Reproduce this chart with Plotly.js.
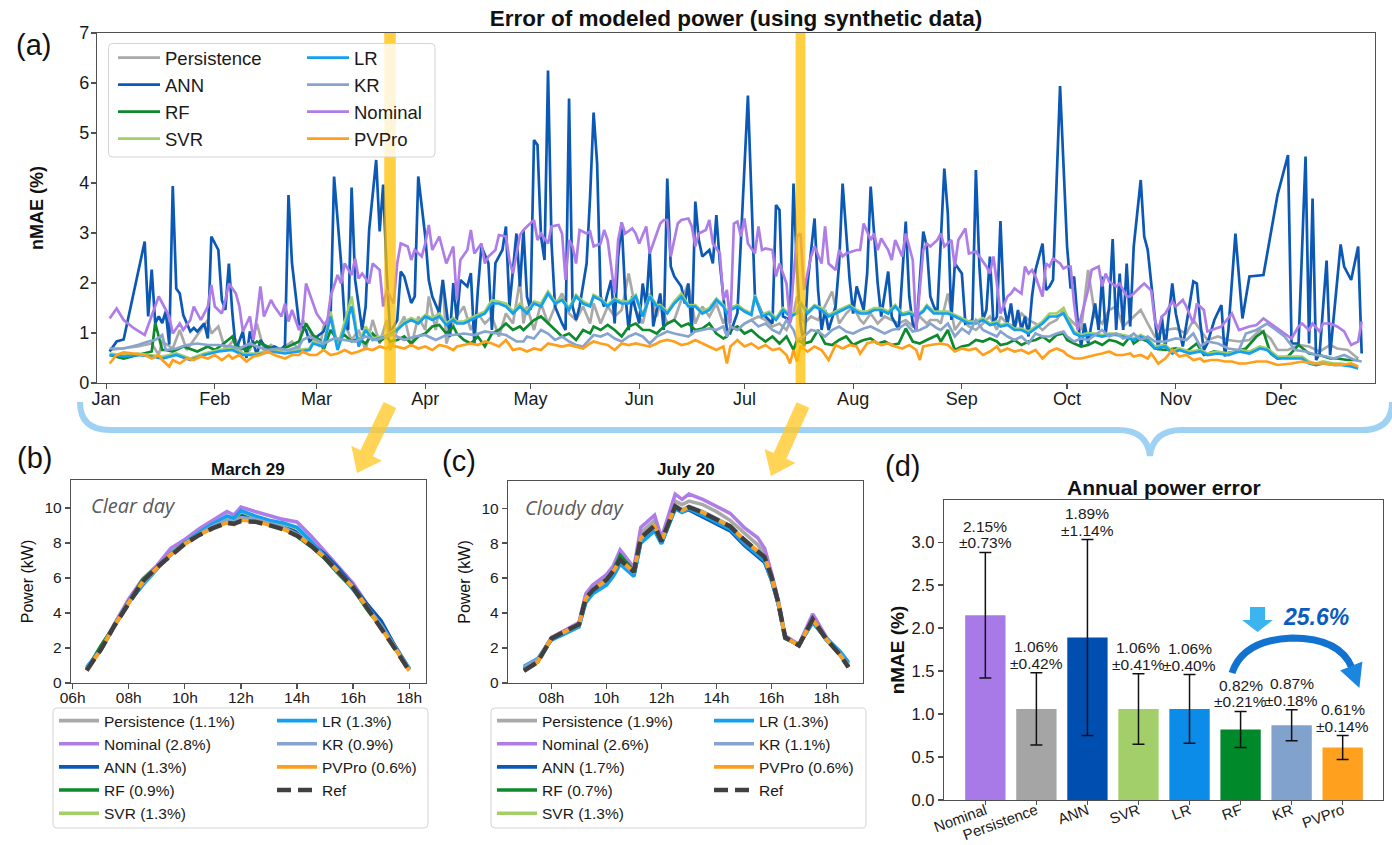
<!DOCTYPE html>
<html><head><meta charset="utf-8">
<script src="https://cdn.plot.ly/plotly-3.0.1.min.js"></script>
<style>html,body{margin:0;padding:0;background:#fff}#chart{width:1392px;height:845px}</style>
</head><body><div id="chart"></div>
<script>
// ---------------- Panel (a): daily nMAE (%), [day of year (0 = Jan 1), value] ----------------
const persistence = [[1,0.66],[5,0.69],[9,0.73],[13,0.79],[15,0.56],[16,0.83],[19,0.69],[21,1.06],[23,0.66],[25,0.86],[27,1.06],[29,1.26],[30,0.99],[32,1.13],[34,0.66],[36,0.83],[37,0.86],[39,0.56],[41,0.66],[43,1.19],[45,0.66],[47,0.76],[49,0.66],[51,0.73],[53,0.83],[55,0.66],[56,1.26],[58,1.06],
[59,0.86],[61,0.73],[62,1.13],[64,1.39],[66,0.73],[68,1.19],[70,0.86],[72,1.06],[74,0.66],[76,1.26],[78,0.79],[80,1.26],[81,0.66],[83,1.06],[85,1.33],[87,0.73],[89,1.33],[91,1.06],[92,1.73],[94,1.06],[96,2.06],[97,0.79],[99,1.19],[100,1.33],[102,1.53],[104,1.06],[106,1.39],[108,1.19],[110,1.33],[112,0.93],[114,1.39],[116,1.19],[118,2.06],
[119,1.19],[120,1.53],[122,1.06],[124,1.59],[126,1.19],[128,1.53],[130,1.79],[132,1.39],[134,1.26],[136,1.53],[138,1.19],[139,1.59],[141,1.19],[143,1.53],[145,1.33],[147,1.46],[149,2.19],[151,1.46],[153,1.19],[155,1.79],[157,1.33],[158,1.59],[160,1.19],[162,1.26],[164,1.66],[166,1.99],[168,1.19],[170,1.53],[172,1.33],[174,1.59],[176,1.19],[177,1.39],
[178,1.13],[180,1.06],[182,1.19],[184,1.26],[186,1.33],[188,1.26],[190,1.13],[192,1.19],[194,1.06],[196,1.39],[197,1.73],[199,1.19],[201,1.33],[203,1.26],[205,1.53],[207,1.83],[209,1.19],[211,1.39],[213,1.53],[215,1.26],[216,1.19],[218,1.39],[220,1.19],[222,1.33],[224,1.26],[226,1.19],[228,1.26],[230,1.13],[232,1.33],[234,1.19],[235,1.26],[237,1.26],
[238,1.19],[240,1.79],[242,1.06],[244,1.26],[246,1.13],[248,1.06],[250,1.19],[252,1.33],[254,1.06],[255,1.33],[257,1.19],[259,1.13],[261,1.39],[263,1.26],[265,1.19],[267,1.06],[269,1.19],[271,1.26],[273,1.46],[274,1.33],[276,1.19],[278,1.06],[280,2.26],[282,1.33],[284,1.19],[286,1.46],[288,1.53],[290,1.13],[292,1.26],[293,1.33],[295,1.46],[297,1.19],
[299,0.93],[302,1.06],[305,1.09],[308,0.99],[310,1.26],[312,1.06],[314,0.86],[317,0.93],[320,0.86],[323,0.83],[326,0.86],[329,1.06],[332,0.89],[334,0.66],[337,0.66],[340,0.76],[343,0.73],[346,0.63],[349,0.76],[351,0.69],[354,0.66],[357,0.49]];

const ann = [[1,0.63],[3,0.83],[5,0.87],[11,2.83],[12,1.33],[13,2.27],[14,1.2],[15,1.33],[16,1.2],[17,1.43],[18,0.77],[19,3.94],[20,1.89],[21,1.79],[22,1.36],[24,1.03],[25,1.1],[26,1.03],[28,1.19],[29,0.89],[30,2.93],[32,2.66],[33,1.66],[34,1.46],[35,2.39],[36,1.39],[37,0.66],[39,1.03],[40,0.5],[41,1.03],[43,0.56],[44,0.86],[46,0.66],[48,0.73],[50,0.66],[51,0.76],[52,3.76],[53,2.39],[55,1.19],[57,1.06],[58,0.83],[60,0.92],[62,1.03],[64,1.33],[65,4.13],[67,2.4],[68,1.26],[69,1.06],[70,3.91],[71,2.06],[73,1.06],[74,1.53],[75,3.06],[77,4.46],[78,3.03],[79,3.97],[80,2.2],[81,1.0],[83,1.26],[84,2.23],[85,2.13],[87,1.6],[88,1.73],[89,4.13],[91,2.93],[92,2.06],[93,1.73],[95,1.4],[96,2.06],[97,1.53],[98,0.92],[99,2.0],[100,1.26],[101,2.06],[103,1.93],[104,2.2],[105,0.79],[106,1.86],[107,2.73],[109,2.4],[110,1.06],[111,2.4],[113,2.66],[114,3.13],[115,1.53],[117,2.99],[118,1.93],[119,3.06],[120,1.73],[121,1.46],[122,4.86],[123,4.76],[124,2.93],[125,2.46],[126,6.25],[127,2.8],[128,1.53],[130,1.19],[131,1.06],[132,5.69],[133,1.53],[134,1.26],[135,1.53],[137,2.39],[138,3.73],[139,5.41],[140,4.39],[141,1.73],[142,1.53],[144,2.06],[145,1.19],[146,2.53],[147,3.21],[148,1.79],[149,1.06],[150,1.73],[152,1.19],[153,1.99],[154,1.53],[155,2.63],[156,1.13],[158,1.79],[159,1.06],[160,4.09],[161,2.33],[162,2.13],[164,1.93],[165,1.59],[166,1.99],[167,0.99],[168,3.63],[169,2.86],[170,2.53],[172,2.66],[173,2.39],[174,3.36],[175,2.39],[177,1.06],[178,1.0],[180,1.4],[183,5.75],[185,1.73],[187,1.4],[188,1.33],[190,1.19],[191,3.56],[192,3.46],[193,1.33],[195,1.26],[196,3.99],[197,2.26],[198,1.19],[199,0.73],[200,1.99],[202,3.29],[203,1.86],[204,1.06],[205,1.46],[206,1.06],[208,1.53],[209,2.39],[210,3.99],[212,2.06],[213,1.39],[214,1.93],[216,1.46],[217,2.19],[218,3.93],[220,1.99],[221,1.33],[223,2.23],[224,1.33],[225,1.19],[226,1.06],[228,3.23],[229,1.73],[230,1.19],[231,1.06],[233,3.03],[234,2.73],[235,1.73],[236,1.53],[237,1.4],[239,4.29],[240,3.39],[241,1.26],[242,2.39],[244,2.19],[245,1.19],[247,1.26],[248,4.26],[249,2.33],[250,1.26],[251,1.46],[252,2.53],[253,1.19],[254,1.33],[255,3.24],[256,1.53],[257,1.19],[258,1.59],[259,1.06],[260,1.46],[261,1.06],[262,1.33],[263,0.93],[264,1.73],[265,2.26],[267,2.79],[268,1.86],[269,1.93],[270,2.06],[272,5.94],[273,4.39],[274,2.73],[275,1.89],[276,2.13],[277,1.26],[278,0.73],[279,1.19],[280,0.79],[282,1.59],[283,1.06],[284,2.13],[285,0.99],[286,1.53],[287,2.88],[288,1.06],[289,2.19],[290,1.06],[291,2.39],[292,1.13],[293,2.73],[295,4.06],[296,2.93],[297,2.66],[299,1.26],[300,0.66],[301,1.33],[302,0.7],[304,1.99],[305,1.39],[307,0.73],[310,2.03],[311,1.99],[312,1.19],[313,0.66],[314,0.79],[316,1.26],[318,1.56],[319,0.53],[320,1.06],[322,2.99],[324,1.29],[326,2.13],[330,2.16],[334,3.76],[337,4.56],[338,0.79],[340,0.79],[342,4.53],[343,0.79],[344,3.69],[345,0.46],[346,0.59],[348,2.45],[349,0.56],[352,2.77],[353,2.33],[355,2.06],[357,2.73],[358,0.59]];

const rf = [[1,0.56],[5,0.49],[9,0.56],[13,0.63],[14,1.2],[16,0.66],[17,0.66],[19,0.63],[22,0.73],[26,0.63],[29,0.73],[31,0.66],[33,0.76],[36,0.93],[37,0.73],[40,0.66],[43,0.83],[46,0.73],[49,0.66],[52,0.73],[55,0.83],[57,1.19],
[59,0.96],[61,0.86],[62,0.66],[64,1.06],[66,0.86],[68,0.96],[70,0.83],[72,0.89],[74,0.79],[76,0.99],[78,0.83],[80,0.93],[81,0.83],[83,0.86],[85,0.93],[87,0.79],[89,0.93],[91,0.99],[93,1.13],[95,1.16],[97,0.99],[99,1.13],[100,0.99],[102,0.86],[104,0.79],[106,0.93],[108,0.73],[110,0.99],[112,1.06],[114,1.19],[116,1.06],[118,1.13],
[119,1.06],[120,1.13],[122,1.26],[124,1.33],[126,1.19],[128,1.06],[130,0.93],[132,0.99],[134,0.86],[136,1.06],[138,0.99],[139,1.13],[141,1.06],[143,1.16],[145,1.06],[147,0.93],[149,1.13],[151,1.19],[153,1.06],[155,1.06],[157,0.99],[158,1.06],[160,1.19],[162,1.26],[164,1.13],[166,1.19],[168,1.06],[170,1.09],[172,1.19],[174,0.99],[176,0.89],[177,0.93],
[178,1.06],[180,1.13],[182,0.99],[184,1.06],[186,0.93],[188,0.83],[190,0.93],[192,0.79],[194,0.93],[196,0.66],[197,0.86],[199,0.79],[201,0.83],[203,1.06],[205,0.79],[207,0.76],[209,0.86],[211,0.93],[213,0.76],[215,0.83],[216,0.86],[218,0.89],[220,0.79],[222,0.83],[224,0.76],[226,0.79],[228,1.09],[230,0.83],[232,0.79],[234,0.86],[235,0.89],[237,0.96],
[238,0.83],[240,1.06],[242,0.66],[244,0.73],[246,0.76],[248,0.86],[250,0.83],[252,0.89],[254,0.83],[255,0.76],[257,0.79],[259,0.86],[261,0.76],[263,0.83],[265,0.86],[267,0.93],[269,0.83],[271,0.96],[273,0.99],[274,0.86],[276,0.79],[278,0.73],[280,0.76],[282,0.83],[284,0.76],[286,0.86],[288,0.83],[290,0.76],[292,0.93],[293,0.79],[295,0.89],[297,0.83],
[299,0.69],[302,0.66],[305,0.69],[308,0.63],[311,0.79],[313,0.56],[316,0.63],[319,0.59],[322,0.63],[325,0.69],[328,0.93],[330,1.03],[332,0.59],[334,0.49],[337,0.53],[340,0.76],[343,0.59],[346,0.56],[349,0.49],[351,0.49],[354,0.46],[357,0.46]];

const svr = [[1,0.59],[5,0.56],[9,0.59],[13,0.56],[16,0.53],[20,0.59],[24,0.49],[28,0.59],[32,0.66],[36,0.69],[39,0.59],[43,0.59],[47,0.66],[51,0.63],[55,0.66],[58,0.69],
[59,0.83],[62,0.76],[64,1.43],[66,0.69],[70,1.73],[72,0.76],[74,1.13],[76,0.89],[80,0.96],[83,1.09],[85,1.23],[87,1.3],[89,1.23],[91,1.36],[93,1.3],[95,1.39],[97,1.19],[99,1.3],[100,1.23],[102,1.23],[104,1.3],[106,1.36],[108,1.43],[110,1.66],[112,1.63],[114,1.59],[116,1.43],[118,1.59],
[119,1.5],[120,1.43],[122,1.63],[124,1.59],[126,1.83],[128,1.63],[130,1.69],[132,1.5],[134,1.76],[136,1.63],[138,1.56],[139,1.76],[141,1.69],[143,1.56],[145,1.69],[147,1.63],[149,1.63],[151,1.76],[153,1.36],[155,1.76],[157,1.56],[158,1.56],[160,1.43],[162,1.63],[164,1.79],[166,1.56],[168,1.56],[170,1.43],[172,1.5],[174,1.69],[176,1.56],[177,1.43],
[178,1.5],[180,1.56],[182,1.46],[184,1.39],[185,1.76],[187,1.36],[189,1.43],[191,1.3],[193,1.5],[195,1.36],[197,1.43],[198,1.63],[200,1.43],[202,1.56],[204,1.5],[206,1.36],[208,1.43],[210,1.5],[212,1.56],[214,1.46],[215,1.43],[217,1.43],[219,1.5],[221,1.5],[223,1.43],[225,1.56],[227,1.39],[229,1.43],[231,1.36],[233,1.46],[234,1.56],[236,1.43],
[238,1.43],[240,1.43],[242,1.36],[244,1.3],[246,1.23],[248,1.23],[250,1.3],[252,1.19],[254,1.23],[255,1.16],[257,1.19],[259,1.09],[261,1.09],[263,1.03],[265,1.13],[267,1.23],[269,1.39],[271,1.39],[273,1.5],[274,1.33],[276,1.03],[278,0.96],[280,1.0],[282,0.99],[284,0.96],[286,0.99],[288,0.99],[290,0.96],[292,0.93],[293,0.89],[295,0.96],[297,0.89],
[299,0.73],[302,0.76],[304,0.63],[306,0.69],[309,0.63],[312,0.66],[314,0.59],[317,0.63],[320,0.59],[323,0.66],[326,0.63],[329,0.73],[331,0.69],[334,0.53],[338,0.53],[341,0.53],[343,0.43],[345,0.39],[347,0.43],[350,0.39],[352,0.39],[355,0.36],[357,0.33]];

const lr = [[1,0.56],[5,0.53],[9,0.56],[13,0.53],[16,0.49],[20,0.56],[24,0.46],[28,0.56],[32,0.63],[36,0.66],[39,0.56],[43,0.56],[47,0.63],[51,0.59],[55,0.63],[58,0.66],
[59,0.79],[62,0.73],[64,1.33],[66,0.66],[70,1.53],[72,0.73],[74,1.06],[76,0.86],[80,0.93],[83,1.06],[85,1.19],[87,1.26],[89,1.19],[91,1.33],[93,1.26],[95,1.33],[97,1.16],[99,1.26],[100,1.19],[102,1.19],[104,1.26],[106,1.33],[108,1.39],[110,1.59],[112,1.59],[114,1.53],[116,1.39],[118,1.53],
[119,1.46],[120,1.39],[122,1.59],[124,1.53],[126,1.79],[128,1.59],[130,1.66],[132,1.46],[134,1.73],[136,1.59],[138,1.53],[139,1.73],[141,1.66],[143,1.53],[145,1.66],[147,1.59],[149,1.59],[151,1.73],[153,1.33],[155,1.73],[157,1.53],[158,1.53],[160,1.39],[162,1.59],[164,1.73],[166,1.53],[168,1.53],[170,1.39],[172,1.46],[174,1.66],[176,1.53],[177,1.39],
[178,1.46],[180,1.53],[182,1.43],[184,1.36],[185,1.73],[187,1.33],[189,1.39],[191,1.26],[193,1.46],[195,1.33],[197,1.39],[198,1.59],[200,1.39],[202,1.53],[204,1.46],[206,1.33],[208,1.39],[210,1.46],[212,1.53],[214,1.43],[215,1.39],[217,1.39],[219,1.46],[221,1.46],[223,1.39],[225,1.53],[227,1.36],[229,1.39],[231,1.33],[233,1.43],[234,1.53],[236,1.39],
[238,1.39],[240,1.39],[242,1.33],[244,1.26],[246,1.19],[248,1.19],[250,1.26],[252,1.16],[254,1.19],[255,1.13],[257,1.16],[259,1.06],[261,1.06],[263,0.99],[265,1.09],[267,1.19],[269,1.33],[271,1.33],[273,1.39],[274,1.26],[276,0.99],[278,0.93],[280,0.96],[282,0.96],[284,0.93],[286,0.96],[288,0.96],[290,0.93],[292,0.89],[293,0.86],[295,0.93],[297,0.86],
[299,0.69],[302,0.73],[304,0.59],[306,0.66],[309,0.59],[312,0.63],[314,0.56],[317,0.59],[320,0.56],[323,0.63],[326,0.59],[329,0.69],[331,0.66],[334,0.49],[338,0.49],[341,0.49],[343,0.39],[345,0.36],[347,0.39],[350,0.36],[352,0.36],[355,0.33],[357,0.29]];

const kr = [[1,0.69],[5,0.69],[9,0.76],[12,0.83],[14,0.86],[16,0.96],[17,0.66],[20,0.69],[23,0.76],[26,0.79],[29,0.76],[32,0.76],[36,0.73],[38,0.69],[41,0.79],[43,0.73],[46,0.66],[49,0.69],[52,0.66],[55,0.73],[56,0.86],[58,0.93],
[60,0.86],[62,0.79],[65,0.89],[68,0.86],[71,0.83],[74,0.93],[77,0.86],[80,0.93],[82,0.96],[85,0.86],[88,0.93],[91,0.96],[94,0.86],[97,0.96],[99,0.96],[102,0.99],[105,0.96],[108,1.03],[111,0.99],[114,0.96],[117,0.83],
[119,0.83],[120,0.93],[122,0.89],[124,1.06],[126,0.99],[128,0.86],[130,0.93],[132,0.83],[134,0.76],[136,0.73],[138,0.89],[139,0.96],[141,0.93],[143,0.99],[145,0.89],[147,0.83],[149,0.93],[151,0.99],[153,0.93],[155,0.79],[157,0.93],[158,0.96],[160,1.03],[162,0.99],[164,0.96],[166,0.93],[168,1.03],[170,1.06],[172,1.09],[174,1.06],[176,1.13],[177,0.93],
[178,1.13],[180,1.06],[182,1.19],[184,1.26],[186,1.13],[188,1.19],[190,1.06],[192,0.99],[194,1.26],[196,1.06],[197,0.86],[199,0.93],[201,1.06],[203,1.03],[205,0.93],[207,1.06],[209,1.13],[211,1.03],[213,0.99],[215,1.06],[216,1.09],[218,1.13],[220,1.06],[222,0.99],[224,1.06],[226,1.09],[228,1.19],[230,1.03],[232,1.06],[234,1.13],[235,1.19],[237,1.09],
[238,1.06],[240,1.19],[242,0.93],[244,1.09],[246,0.99],[248,1.26],[250,1.06],[252,0.99],[254,0.93],[255,1.03],[257,0.93],[259,0.86],[261,0.93],[263,0.79],[265,0.99],[267,0.93],[269,0.93],[271,0.99],[273,1.03],[274,0.93],[276,0.83],[278,0.89],[280,0.86],[282,0.96],[284,1.06],[286,0.93],[288,0.99],[290,0.89],[292,0.93],[293,0.99],[295,0.86],[297,0.93],
[299,0.83],[302,0.83],[305,0.89],[308,0.86],[310,0.99],[312,0.73],[314,0.83],[317,0.79],[320,0.69],[323,0.66],[325,0.99],[328,1.06],[331,1.19],[333,1.09],[336,0.93],[339,0.66],[342,0.63],[345,0.56],[348,0.53],[350,0.49],[353,0.56],[356,0.46],[358,0.43]];

const nominal = [[1,1.29],[3,1.49],[5,1.26],[8,1.09],[11,0.96],[13,1.33],[15,1.73],[16,1.6],[18,1.33],[19,0.99],[21,1.19],[22,1.06],[24,1.26],[25,1.53],[27,1.26],[29,1.53],[30,1.96],[31,1.53],[33,1.39],[34,1.66],[35,1.99],[37,1.79],[38,1.53],[39,1.03],[41,1.33],[42,0.86],[43,1.33],[44,1.93],[45,1.33],[47,1.66],[48,1.53],[50,1.33],[51,1.59],[52,1.23],[53,1.46],[55,1.06],[56,1.19],[57,1.99],[60,1.39],[62,1.19],[63,1.19],[64,1.73],[66,2.16],[67,1.99],[68,2.39],[70,2.16],[71,2.49],[72,2.09],[73,2.19],[75,1.99],[76,2.39],[78,2.26],[79,1.53],[80,1.86],[82,1.59],[83,2.39],[84,2.79],[86,2.73],[87,2.46],[88,2.66],[90,2.53],[91,2.79],[92,3.16],[93,2.66],[95,2.93],[96,2.66],[97,2.39],[99,2.73],[100,1.66],[101,2.46],[103,2.66],[104,3.06],[105,2.59],[107,2.79],[108,2.39],[109,2.53],[111,2.66],[112,2.96],[114,2.93],[115,2.46],[116,2.19],[118,2.96],[119,3.06],[120,3.13],[122,3.26],[123,2.86],[124,2.99],[126,2.79],[127,3.13],[129,3.16],[130,2.99],[131,2.06],[132,2.86],[133,2.73],[134,2.39],[135,3.06],[137,2.99],[138,3.03],[139,2.73],[141,2.79],[142,3.06],[143,2.86],[145,1.79],[146,2.86],[147,3.21],[148,2.99],[150,3.09],[151,2.99],[152,2.79],[154,3.13],[155,2.59],[157,2.99],[158,3.19],[159,3.26],[160,3.26],[161,2.53],[163,3.19],[164,3.26],[166,3.29],[167,3.13],[168,2.73],[169,2.99],[171,3.06],[172,3.26],[173,2.79],[175,2.59],[176,1.66],[177,1.86],[178,1.2],[179,3.19],[180,3.23],[181,2.93],[182,3.29],[183,2.79],[185,2.59],[186,3.13],[187,2.66],[188,2.69],[190,2.66],[191,2.13],[192,2.39],[194,1.99],[195,1.19],[196,2.13],[197,2.93],[198,2.99],[199,1.86],[201,2.53],[202,2.73],[204,2.39],[205,3.13],[206,2.39],[208,2.26],[209,2.66],[210,2.53],[211,2.59],[213,2.63],[214,2.66],[215,2.66],[216,3.19],[218,2.86],[219,2.99],[220,2.66],[221,2.89],[223,2.66],[224,2.46],[225,2.86],[227,2.53],[228,2.99],[229,2.73],[230,2.46],[231,1.06],[233,2.66],[234,2.79],[235,2.73],[237,2.86],[238,2.99],[239,2.73],[241,2.86],[242,2.33],[243,2.86],[245,3.09],[246,2.59],[248,2.63],[249,2.53],[251,2.33],[252,2.19],[253,2.53],[254,1.99],[255,1.39],[257,1.73],[258,1.79],[259,1.89],[261,1.79],[262,2.33],[263,2.19],[264,2.26],[265,2.13],[267,1.73],[268,2.39],[269,2.33],[270,2.49],[272,2.39],[273,2.29],[274,2.33],[275,2.33],[276,1.59],[277,1.06],[279,1.59],[280,1.86],[281,2.26],[283,2.33],[284,1.93],[285,2.19],[286,2.03],[288,1.93],[289,1.99],[291,1.73],[292,1.73],[293,1.79],[295,1.93],[296,1.99],[298,1.85],[299,1.26],[300,1.06],[301,1.33],[302,1.39],[304,1.63],[305,1.53],[307,1.66],[308,1.53],[310,1.19],[311,1.59],[313,1.46],[314,1.03],[318,1.13],[321,1.39],[323,1.06],[326,1.13],[328,1.16],[330,1.29],[334,1.09],[338,0.89],[340,1.13],[341,1.19],[343,1.06],[344,1.19],[346,1.03],[347,1.19],[349,1.19],[351,1.13],[353,1.03],[355,0.76],[357,0.83],[358,1.23]];

const pvpro = [[1,0.39],[3,0.56],[5,0.61],[8,0.59],[11,0.56],[13,0.49],[15,0.56],[16,0.46],[18,0.33],[19,0.46],[21,0.39],[23,0.49],[25,0.46],[27,0.53],[29,0.49],[31,0.56],[33,0.46],[35,0.56],[36,0.49],[38,0.56],[40,0.43],[42,0.53],[44,0.56],[46,0.63],[48,0.56],[51,0.49],[53,0.56],[55,0.56],[56,0.63],[58,0.56],
[60,0.56],[62,0.66],[64,0.56],[66,0.59],[68,0.66],[70,0.59],[72,0.63],[74,0.69],[76,0.66],[78,0.73],[80,0.69],[81,0.76],[83,0.73],[85,0.69],[87,0.76],[89,0.69],[91,0.73],[93,0.66],[95,0.76],[97,0.73],[99,0.66],[100,0.73],[102,0.76],[104,0.79],[106,0.76],[108,0.83],[110,0.79],[112,0.73],[114,0.86],[116,0.66],[118,0.69],
[119,0.66],[120,0.63],[122,0.69],[124,0.66],[126,0.79],[128,0.76],[130,0.73],[132,0.76],[134,0.73],[136,0.69],[138,0.79],[139,0.83],[141,0.79],[143,0.76],[145,0.66],[147,0.79],[149,0.76],[151,0.79],[153,0.76],[155,0.73],[157,0.79],[158,0.83],[160,0.86],[162,0.83],[164,0.76],[166,0.79],[168,0.86],[170,0.79],[172,0.73],[174,0.66],[176,0.73],[177,0.39],
[178,0.73],[180,0.86],[182,0.73],[184,0.79],[186,0.69],[188,0.76],[190,0.66],[192,0.69],[194,0.56],[195,0.39],[196,0.66],[197,0.43],[198,0.73],[200,0.63],[202,0.73],[204,0.66],[206,0.46],[208,0.76],[210,0.69],[212,0.76],[214,0.73],[215,0.59],[217,0.79],[219,0.83],[221,0.76],[223,0.79],[225,0.73],[227,0.69],[229,0.76],[231,0.66],[232,0.46],[233,0.73],[235,0.76],[237,0.79],
[238,0.79],[240,0.76],[242,0.63],[244,0.69],[246,0.66],[248,0.69],[250,0.56],[252,0.63],[254,0.73],[255,0.63],[257,0.69],[259,0.63],[261,0.66],[263,0.59],[265,0.66],[267,0.49],[269,0.63],[271,0.69],[273,0.63],[274,0.56],[276,0.49],[278,0.49],[280,0.53],[282,0.56],[284,0.59],[286,0.63],[288,0.56],[290,0.56],[292,0.59],[293,0.53],[295,0.56],[297,0.49],
[298,0.59],[300,0.39],[302,0.49],[304,0.66],[306,0.53],[308,0.56],[310,0.46],[312,0.49],[313,0.43],[315,0.46],[317,0.46],[319,0.43],[321,0.43],[323,0.39],[325,0.39],[328,0.43],[331,0.43],[334,0.36],[338,0.39],[341,0.43],[344,0.39],[347,0.39],[350,0.36],[352,0.36],[355,0.39],[357,0.33]];

// ---------------- Panels (b) and (c): power (kW) ----------------
const hoursB = [6.5,7,7.5,8,8.5,9,9.5,10,10.5,11,11.5,11.75,12,12.5,13,13.5,14,14.5,15,15.5,16,16.5,17,17.5,18];
const persB = [0.85,1.9,3.4,4.7,5.8,6.6,7.45,8.05,8.6,9.05,9.4,9.3,9.55,9.45,9.25,9.0,8.6,8.0,7.3,6.4,5.5,4.4,3.3,2.0,0.8];
const nomB  = [0.8,1.95,3.4,4.8,5.95,6.7,7.7,8.2,8.8,9.3,9.8,9.6,10.05,9.8,9.55,9.35,9.2,8.4,7.5,6.6,5.7,4.5,3.4,2.1,0.8];
const annB  = [0.8,1.9,3.3,4.65,5.8,6.6,7.35,8.0,8.5,9.0,9.45,9.3,9.6,9.4,9.2,9.0,8.6,8.0,7.35,6.5,5.55,4.5,3.55,2.1,0.8];
const rfB   = [0.75,2.1,3.3,4.6,5.9,6.6,7.35,7.95,8.5,8.95,9.3,9.2,9.4,9.3,9.1,8.85,8.4,7.8,7.1,6.2,5.4,4.2,3.2,2.0,0.75];
const svrB  = [0.85,1.9,3.3,4.6,5.65,6.5,7.4,8.0,8.6,9.05,9.5,9.35,9.8,9.5,9.25,9.1,8.85,8.05,7.2,6.25,5.35,4.3,3.3,2.05,0.85];
const lrB   = [0.9,1.9,3.3,4.6,5.6,6.5,7.4,8.0,8.6,9.1,9.55,9.4,9.85,9.55,9.3,9.15,8.9,8.1,7.2,6.25,5.35,4.3,3.3,2.05,0.85];
const krB   = [0.8,1.9,3.3,4.6,5.7,6.55,7.35,7.95,8.5,8.95,9.3,9.2,9.45,9.35,9.15,8.9,8.5,7.9,7.2,6.35,5.5,4.35,3.25,2.0,0.8];
const pvB   = [0.72,1.9,3.3,4.6,5.8,6.6,7.35,7.95,8.45,8.85,9.15,9.05,9.3,9.25,9.05,8.8,8.45,7.85,7.15,6.3,5.45,4.3,3.15,1.95,0.7];
const refB  = [0.72,1.9,3.3,4.6,5.8,6.6,7.3,7.95,8.45,8.85,9.15,9.1,9.25,9.22,9.02,8.78,8.42,7.85,7.15,6.3,5.45,4.3,3.15,1.95,0.7];

const hoursC = [7.0,7.5,8.0,8.5,9.0,9.25,9.5,10.0,10.25,10.5,11.0,11.25,11.75,12.0,12.5,12.75,13.0,13.5,14.0,14.5,15.0,15.5,15.75,16.0,16.25,16.5,17.0,17.5,18.0,18.5,18.8];
const persC = [0.9,1.35,2.6,3.0,3.4,5.0,5.5,6.1,6.6,7.3,6.5,8.6,9.3,8.2,10.4,10.2,10.4,10.2,9.8,9.3,8.6,7.9,7.4,6.2,4.7,2.6,2.2,3.8,2.6,1.7,1.0];
const nomC  = [0.8,1.3,2.6,3.0,3.45,5.1,5.6,6.2,6.7,7.6,6.6,8.9,9.6,8.3,10.8,10.5,10.8,10.5,10.1,9.7,8.9,8.3,7.7,6.3,4.7,2.7,2.2,3.95,2.6,1.6,0.9];
const annC  = [0.85,1.3,2.5,2.85,3.25,4.7,5.2,5.7,6.2,6.9,6.2,8.1,8.8,8.0,10.0,9.8,9.9,9.5,9.1,8.7,7.9,7.2,6.9,5.9,4.5,2.6,2.15,3.5,2.45,1.7,1.1];
const rfC   = [0.7,1.2,2.55,2.9,3.3,4.8,5.3,5.9,6.4,7.3,6.4,8.2,9.0,8.05,10.1,9.85,10.0,9.7,9.3,8.9,8.15,7.5,7.1,6.0,4.6,2.6,2.15,3.6,2.5,1.6,0.9];
const svrC  = [0.9,1.35,2.5,2.85,3.25,4.7,5.2,5.75,6.25,6.9,6.2,8.1,8.8,8.0,10.0,9.8,10.0,9.65,9.25,8.85,8.1,7.4,7.05,5.95,4.55,2.55,2.2,3.5,2.5,1.75,1.15];
const lrC   = [0.95,1.4,2.45,2.8,3.2,4.6,5.1,5.6,6.1,6.8,6.1,8.0,8.7,7.95,9.95,9.75,9.95,9.6,9.2,8.8,8.0,7.3,7.0,5.9,4.5,2.55,2.2,3.45,2.55,1.8,1.2];
const krC   = [0.9,1.35,2.55,2.9,3.3,4.8,5.3,5.85,6.35,7.0,6.3,8.25,8.95,8.1,10.15,9.9,10.1,9.8,9.4,9.0,8.2,7.55,7.2,6.05,4.6,2.6,2.2,3.6,2.5,1.65,1.0];
const pvC   = [0.7,1.2,2.55,2.95,3.35,4.85,5.3,5.9,6.4,7.05,6.35,8.3,9.0,8.1,10.1,9.85,10.05,9.75,9.35,8.95,8.2,7.55,7.2,6.1,4.6,2.6,2.15,3.65,2.5,1.6,0.9];
const refC  = [0.7,1.2,2.55,2.95,3.35,4.85,5.3,5.9,6.4,7.05,6.35,8.3,9.0,8.1,10.1,9.85,10.05,9.75,9.35,8.95,8.2,7.55,7.2,6.1,4.6,2.6,2.15,3.65,2.5,1.6,0.9];

const legendB = ['Persistence (1.1%)','Nominal (2.8%)','ANN (1.3%)','RF (0.9%)','SVR (1.3%)','LR (1.3%)','KR (0.9%)','PVPro (0.6%)','Ref'];
const legendC = ['Persistence (1.9%)','Nominal (2.6%)','ANN (1.7%)','RF (0.7%)','SVR (1.3%)','LR (1.3%)','KR (1.1%)','PVPro (0.6%)','Ref'];
const hourTicksB = [6,8,10,12,14,16,18], hourTextB = ['06h','08h','10h','12h','14h','16h','18h'];
const hourTicksC = [8,10,12,14,16,18], hourTextC = ['08h','10h','12h','14h','16h','18h'];

// ---------------- Panel (d): annual power error ----------------
const barCats  = ['Nominal','Persistence','ANN','SVR','LR','RF','KR','PVPro'];
const barMeans = [2.15,1.06,1.89,1.06,1.06,0.82,0.87,0.61];
const barErrs  = [0.73,0.42,1.14,0.41,0.40,0.21,0.18,0.14];
const reductionText = '25.6%';

// ---------------- Styling ----------------
const W = 1392, H = 845;
const FONT = 'Liberation Sans, Arial, Helvetica, sans-serif';
const C = {pers:'#a9a9a9', ann:'#0b58b5', rf:'#0c8a2c', svr:'#a2cf68', lr:'#12a0ef', kr:'#87a4cf', nom:'#ae7de8', pv:'#ff9f1c', ref:'#404040'};
const barColors = ['#a87ae8','#a5a5a5','#004fb0','#a3cf6b','#0a8ce8','#00892b','#80a2cc','#ffa11e'];

function fx(x){ return x / W; }
function fy(y){ return 1 - y / H; }
const BASE = Date.UTC(2020,0,1);
function dayToDate(d){ return new Date(BASE + d*86400000).toISOString().slice(0,19).replace('T',' '); }

const traces = [];
function addA(name, data, color, legend){
  traces.push({type:'scatter', mode:'lines', name, x:data.map(p=>dayToDate(p[0])), y:data.map(p=>p[1]),
    line:{color, width:2.7}, xaxis:'x', yaxis:'y', legend});
}
addA('Persistence', persistence, C.pers, 'legend');
addA('ANN', ann, C.ann, 'legend');
addA('RF', rf, C.rf, 'legend');
addA('SVR', svr, C.svr, 'legend');
addA('LR', lr, C.lr, 'legend2');
addA('KR', kr, C.kr, 'legend2');
addA('Nominal', nominal, C.nom, 'legend2');
addA('PVPro', pvpro, C.pv, 'legend2');

function addDay(hours, series, names, xa, ya, lg1, lg2){
  const cols = [C.pers, C.nom, C.ann, C.rf, C.svr, C.lr, C.kr, C.pv, C.ref];
  series.forEach((s,i)=>{
    const isRef = i === 8;
    traces.push({type:'scatter', mode:'lines', name:names[i], x:hours, y:s, xaxis:xa, yaxis:ya,
      legend: i < 5 ? lg1 : lg2,
      line:{color:cols[i], width: isRef ? 4.5 : 3.6, dash: isRef ? '14px,7px' : 'solid'}});
  });
}
addDay(hoursB, [persB,nomB,annB,rfB,svrB,lrB,krB,pvB,refB], legendB, 'x2', 'y2', 'legend3', 'legend4');
addDay(hoursC, [persC,nomC,annC,rfC,svrC,lrC,krC,pvC,refC], legendC, 'x3', 'y3', 'legend5', 'legend6');

traces.push({type:'bar', x:barCats, y:barMeans, xaxis:'x4', yaxis:'y4', showlegend:false,
  marker:{color:barColors, line:{width:0}}, width:0.79,
  error_y:{type:'data', array:barErrs, visible:true, color:'#111', thickness:1.5, width:6}});

function axis(extra){
  return Object.assign({showline:true, mirror:true, linecolor:'#505050', linewidth:1.2, ticks:'outside', ticklen:5,
    tickwidth:1.2, tickcolor:'#505050', showgrid:false, zeroline:false,
    tickfont:{family:FONT, size:15.5, color:'#1a1a1a'}}, extra);
}

function legendCfg(x, y, size, iw){
  return {x:fx(x), y:fy(y), xanchor:'left', yanchor:'top', bgcolor:'rgba(0,0,0,0)', borderwidth:0,
    font:{family:FONT, size, color:'#1a1a1a'}, itemwidth:iw, tracegroupgap:0};
}

// path helpers (pixel -> paper)
function P(x,y){ return fx(x).toFixed(5)+','+fy(y).toFixed(5); }
function roundRect(x0,y0,x1,y1,r){
  return 'M'+P(x0+r,y0)+' L'+P(x1-r,y0)+' Q'+P(x1,y0)+' '+P(x1,y0+r)+' L'+P(x1,y1-r)+' Q'+P(x1,y1)+' '+P(x1-r,y1)+
    ' L'+P(x0+r,y1)+' Q'+P(x0,y1)+' '+P(x0,y1-r)+' L'+P(x0,y0+r)+' Q'+P(x0,y0)+' '+P(x0+r,y0)+' Z';
}
function blockArrow(sx,sy,tx,ty,sh,hh,hl){
  const dx=tx-sx, dy=ty-sy, L=Math.hypot(dx,dy), ux=dx/L, uy=dy/L, nx=-uy, ny=ux;
  const bx=tx-hl*ux, by=ty-hl*uy;
  const pts=[[sx+sh*nx,sy+sh*ny],[bx+sh*nx,by+sh*ny],[bx+hh*nx,by+hh*ny],[tx,ty],[bx-hh*nx,by-hh*ny],[bx-sh*nx,by-sh*ny],[sx-sh*nx,sy-sh*ny]];
  return 'M'+pts.map(p=>P(p[0],p[1])).join(' L')+' Z';
}

const shapes = [
  {type:'rect', xref:'x', yref:'y domain', x0:dayToDate(79.3), x1:dayToDate(82.6), y0:0, y1:1, fillcolor:'rgba(255,190,0,0.74)', line:{width:0}, layer:'above'},
  {type:'rect', xref:'x', yref:'y domain', x0:dayToDate(196.6), x1:dayToDate(199.4), y0:0, y1:1, fillcolor:'rgba(255,190,0,0.74)', line:{width:0}, layer:'above'},
  {type:'path', xref:'paper', yref:'paper', path:roundRect(108.5,43.5,435,157,4), fillcolor:'rgba(255,255,255,0.8)', line:{color:'#d4d4d4', width:1}, layer:'above'},
  {type:'path', xref:'paper', yref:'paper', path:roundRect(53,708,428,828,4), fillcolor:'rgba(255,255,255,0.8)', line:{color:'#d4d4d4', width:1}, layer:'above'},
  {type:'path', xref:'paper', yref:'paper', path:roundRect(491,708,866,828,4), fillcolor:'rgba(255,255,255,0.8)', line:{color:'#d4d4d4', width:1}, layer:'above'},
  {type:'path', xref:'paper', yref:'paper', path:'M'+P(80,402)+' Q'+P(80,430)+' '+P(110,430)+' L'+P(1118,430)+' Q'+P(1147,430)+' '+P(1150,456)+' Q'+P(1153,430)+' '+P(1182,430)+' L'+P(1362,430)+' Q'+P(1392,430)+' '+P(1392,402),
    line:{color:'rgba(135,198,240,0.8)', width:6}, fillcolor:'rgba(0,0,0,0)'},
  {type:'path', xref:'paper', yref:'paper', path:blockArrow(390,405,357,473,7,17,22), fillcolor:'rgba(255,200,40,0.78)', line:{width:0}},
  {type:'path', xref:'paper', yref:'paper', path:blockArrow(803,405,771,476,7,17,22), fillcolor:'rgba(255,200,40,0.78)', line:{width:0}},
  {type:'path', xref:'paper', yref:'paper', path:'M'+P(1250,607)+' L'+P(1265,607)+' L'+P(1265,620)+' L'+P(1273,620)+' L'+P(1257.5,632)+' L'+P(1242,620)+' L'+P(1250,620)+' Z', fillcolor:'#3cb4ef', line:{width:0}},
  {type:'path', xref:'paper', yref:'paper', path:'M'+P(1232,673)+' Q'+P(1243,640)+' '+P(1292,638)+' Q'+P(1340,638)+' '+P(1352,668), line:{color:'#1272cf', width:7}, fillcolor:'rgba(0,0,0,0)'},
  {type:'path', xref:'paper', yref:'paper', path:'M'+P(1362.4,661.6)+' L'+P(1359.4,688)+' L'+P(1340.2,670.6)+' Z', fillcolor:'#1a86e0', line:{width:0}}
];

function paperText(text, x, y, size, extra){
  return Object.assign({text, x:fx(x), y:fy(y), xref:'paper', yref:'paper', showarrow:false, xanchor:'center', yanchor:'middle',
    font:{family:FONT, size, color:'#111'}}, extra || {});
}
const annotations = [
  paperText('(a)', 33, 45, 29), paperText('(b)', 34, 458, 29), paperText('(c)', 459, 461, 29), paperText('(d)', 903, 466, 29),
  paperText('<b>March 29</b>', 248, 470, 17),
  paperText('<b>July 20</b>', 686, 470, 17),
  paperText('<b>Annual power error</b>', 1164, 487, 21),
  paperText('<i>Clear day</i>', 89, 505, 20, {xanchor:'left', font:{family:'Open Sans, sans-serif', size:20, color:'#5a5a5a'}}),
  paperText('<i>Cloudy day</i>', 523, 507, 20, {xanchor:'left', font:{family:'Open Sans, sans-serif', size:20, color:'#5a5a5a'}}),
  paperText('<b><i>'+reductionText+'</i></b>', 1316, 617, 23, {font:{family:FONT, size:23, color:'#0a5cc0'}})
];
barCats.forEach((c,i)=>{
  const top = barMeans[i] + barErrs[i];
  annotations.push({text:'±'+barErrs[i].toFixed(2)+'%', x:c, y:top, xref:'x4', yref:'y4', showarrow:false, xanchor:'center', yanchor:'bottom', yshift:-1, font:{family:FONT,size:15.5,color:'#1a1a1a'}});
  annotations.push({text:barMeans[i].toFixed(2)+'%', x:c, y:top, xref:'x4', yref:'y4', showarrow:false, xanchor:'center', yanchor:'bottom', yshift:15.5, font:{family:FONT,size:15.5,color:'#1a1a1a'}});
});

const layout = {
  width:W, height:H, margin:{l:0,r:0,t:0,b:0}, paper_bgcolor:'#fff', plot_bgcolor:'rgba(0,0,0,0)',
  font:{family:FONT, color:'#1a1a1a'}, showlegend:true,
  title:{text:'<b>Error of modeled power (using synthetic data)</b>', x:fx(736), y:fy(18), xanchor:'center', yanchor:'middle', font:{family:FONT,size:22.5,color:'#111'}},
  xaxis: axis({domain:[fx(97),fx(1375)], anchor:'y', type:'date', range:[dayToDate(-2.6),dayToDate(361.8)], dtick:'M1', tick0:'2020-01-01', tickformat:'%b', ticklabelstandoff:-6, tickfont:{family:FONT,size:18,color:'#1a1a1a'}}),
  yaxis: axis({domain:[fy(383),fy(33)], anchor:'x', range:[0,7], dtick:1, ticklabelstandoff:-2, tickfont:{family:FONT,size:18,color:'#1a1a1a'}, title:{text:'<b>nMAE (%)</b>', font:{family:FONT,size:18,color:'#111'}, standoff:30}}),
  xaxis2: axis({domain:[fx(71),fx(426)], anchor:'y2', range:[5.94,18.6], tickvals:hourTicksB, ticktext:hourTextB, ticklabelstandoff:-5}),
  yaxis2: axis({domain:[fy(683),fy(480)], anchor:'x2', range:[0,11.6], tickvals:[0,2,4,6,8,10], title:{text:'Power (kW)', font:{family:FONT,size:16,color:'#111'}, standoff:6}}),
  xaxis3: axis({domain:[fx(508),fx(863)], anchor:'y3', range:[6.42,19.33], tickvals:hourTicksC, ticktext:hourTextC, ticklabelstandoff:-5}),
  yaxis3: axis({domain:[fy(683),fy(481)], anchor:'x3', range:[0,11.55], tickvals:[0,2,4,6,8,10], title:{text:'Power (kW)', font:{family:FONT,size:16,color:'#111'}, standoff:6}}),
  xaxis4: axis({domain:[fx(944),fx(1383)], anchor:'y4', type:'category', range:[-0.81,7.79], tickangle:-20, ticklen:4, ticklabelstandoff:-9, tickfont:{family:FONT,size:15,color:'#1a1a1a'}}),
  yaxis4: axis({domain:[fy(800),fy(500)], anchor:'x4', range:[0,3.49], dtick:0.5, tickformat:'.1f', tickfont:{family:FONT,size:16.5,color:'#1a1a1a'}, title:{text:'<b>nMAE (%)</b>', font:{family:FONT,size:19,color:'#111'}, standoff:2}}),
  legend: legendCfg(113, 39, 18.5, 42),
  legend2: legendCfg(302, 39, 18.5, 42),
  legend3: legendCfg(54, 704, 15.5, 40),
  legend4: legendCfg(272, 704, 15.5, 40),
  legend5: legendCfg(492, 704, 15.5, 40),
  legend6: legendCfg(709, 704, 15.5, 40),
  shapes, annotations
};

Plotly.newPlot('chart', traces, layout, {displayModeBar:false, staticPlot:true});
</script>
</body></html>
